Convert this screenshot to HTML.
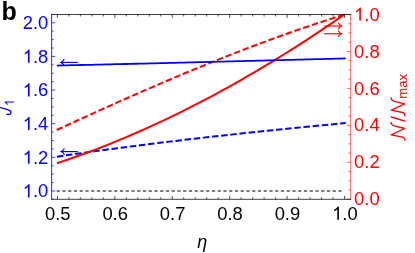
<!DOCTYPE html>
<html><head><meta charset="utf-8"><title>b</title>
<style>
html,body{margin:0;padding:0;background:#fff;}
svg{display:block;will-change:transform;}
text{font-family:"Liberation Sans",sans-serif;}
</style></head><body>
<svg width="415" height="253" viewBox="0 0 415 253">

<path d="M56.65,191.0 H344.0" stroke="#7c7c7c" stroke-width="2" stroke-dasharray="3.2 2.55" fill="none"/>
<path d="M56.70,130.01 L61.58,127.75 L66.46,125.50 L71.34,123.26 L76.23,121.02 L81.11,118.79 L85.99,116.56 L90.87,114.34 L95.75,112.13 L100.63,109.93 L105.51,107.73 L110.39,105.54 L115.28,103.36 L120.16,101.18 L125.04,99.02 L129.92,96.86 L134.80,94.72 L139.68,92.58 L144.56,90.45 L149.45,88.33 L154.33,86.22 L159.21,84.12 L164.09,82.03 L168.97,79.96 L173.85,77.89 L178.73,75.83 L183.62,73.79 L188.50,71.76 L193.38,69.74 L198.26,67.73 L203.14,65.73 L208.02,63.75 L212.90,61.78 L217.78,59.83 L222.67,57.88 L227.55,55.95 L232.43,54.04 L237.31,52.14 L242.19,50.25 L247.07,48.38 L251.95,46.53 L256.84,44.69 L261.72,42.86 L266.60,41.05 L271.48,39.26 L276.36,37.48 L281.24,35.72 L286.12,33.98 L291.01,32.25 L295.89,30.55 L300.77,28.86 L305.65,27.18 L310.53,25.53 L315.41,23.89 L320.29,22.27 L325.17,20.67 L330.06,19.09 L334.94,17.53 L339.82,15.99 L344.70,14.47" stroke="#ff0000" stroke-width="2.0" stroke-dasharray="6.45 2.75" fill="none"/>
<path d="M56.90,156.70 L61.79,155.97 L66.69,155.26 L71.58,154.55 L76.48,153.84 L81.37,153.14 L86.27,152.45 L91.16,151.77 L96.06,151.09 L100.95,150.42 L105.85,149.75 L110.74,149.10 L115.64,148.44 L120.53,147.79 L125.43,147.15 L130.32,146.52 L135.22,145.89 L140.11,145.26 L145.01,144.65 L149.90,144.03 L154.80,143.42 L159.69,142.82 L164.59,142.22 L169.48,141.63 L174.38,141.05 L179.27,140.46 L184.17,139.89 L189.06,139.31 L193.96,138.75 L198.85,138.18 L203.75,137.62 L208.64,137.07 L213.54,136.52 L218.43,135.98 L223.33,135.44 L228.22,134.90 L233.12,134.37 L238.01,133.84 L242.91,133.31 L247.80,132.79 L252.70,132.27 L257.59,131.76 L262.49,131.25 L267.38,130.74 L272.28,130.24 L277.17,129.74 L282.07,129.24 L286.96,128.75 L291.86,128.26 L296.75,127.77 L301.65,127.29 L306.54,126.81 L311.44,126.33 L316.33,125.85 L321.23,125.38 L326.12,124.91 L331.02,124.44 L335.91,123.97 L340.81,123.51 L345.70,123.05" stroke="#0000ff" stroke-width="2.0" stroke-dasharray="6.45 2.75" fill="none"/>
<path d="M56.90,163.24 L61.78,161.61 L66.66,159.96 L71.53,158.27 L76.41,156.55 L81.29,154.80 L86.17,153.02 L91.05,151.20 L95.92,149.35 L100.80,147.47 L105.68,145.56 L110.56,143.61 L115.44,141.63 L120.31,139.63 L125.19,137.58 L130.07,135.51 L134.95,133.41 L139.83,131.27 L144.70,129.10 L149.58,126.90 L154.46,124.67 L159.34,122.41 L164.22,120.12 L169.09,117.80 L173.97,115.44 L178.85,113.06 L183.73,110.64 L188.61,108.20 L193.48,105.72 L198.36,103.21 L203.24,100.68 L208.12,98.11 L212.99,95.51 L217.87,92.88 L222.75,90.22 L227.63,87.54 L232.51,84.82 L237.38,82.07 L242.26,79.29 L247.14,76.49 L252.02,73.65 L256.90,70.79 L261.77,67.89 L266.65,64.97 L271.53,62.02 L276.41,59.03 L281.29,56.02 L286.16,52.98 L291.04,49.92 L295.92,46.82 L300.80,43.70 L305.68,40.54 L310.55,37.36 L315.43,34.15 L320.31,30.91 L325.19,27.64 L330.07,24.35 L334.94,21.03 L339.82,17.68 L344.70,14.30" stroke="#ff0000" stroke-width="2.0" fill="none"/>
<path d="M56.90,65.54 L61.79,65.43 L66.69,65.33 L71.58,65.22 L76.48,65.11 L81.37,65.00 L86.27,64.89 L91.16,64.78 L96.06,64.67 L100.95,64.56 L105.85,64.45 L110.74,64.34 L115.64,64.22 L120.53,64.11 L125.43,64.00 L130.32,63.88 L135.22,63.76 L140.11,63.65 L145.01,63.53 L149.90,63.41 L154.80,63.30 L159.69,63.18 L164.59,63.06 L169.48,62.94 L174.38,62.82 L179.27,62.70 L184.17,62.58 L189.06,62.46 L193.96,62.33 L198.85,62.21 L203.75,62.09 L208.64,61.97 L213.54,61.84 L218.43,61.72 L223.33,61.60 L228.22,61.47 L233.12,61.35 L238.01,61.22 L242.91,61.10 L247.80,60.97 L252.70,60.85 L257.59,60.72 L262.49,60.60 L267.38,60.47 L272.28,60.35 L277.17,60.22 L282.07,60.10 L286.96,59.97 L291.86,59.84 L296.75,59.72 L301.65,59.59 L306.54,59.47 L311.44,59.34 L316.33,59.21 L321.23,59.09 L326.12,58.96 L331.02,58.84 L335.91,58.71 L340.81,58.59 L345.70,58.46" stroke="#0000ff" stroke-width="1.8" fill="none"/>
<path d="M77.8,62.4 H61.3" stroke="#0000ff" stroke-width="1.15" fill="none"/><path d="M64.0,59.6 Q63.1,61.4 60.9,62.4 Q63.1,63.4 64.0,65.2" stroke="#0000ff" stroke-width="1.15" fill="none" stroke-linecap="round"/>
<path d="M77.8,151.6 H61.5" stroke="#0000ff" stroke-width="1.15" fill="none"/><path d="M64.2,148.79999999999998 Q63.300000000000004,150.6 61.1,151.6 Q63.300000000000004,152.6 64.2,154.4" stroke="#0000ff" stroke-width="1.15" fill="none" stroke-linecap="round"/>
<path d="M324.2,26.0 H341.20000000000005" stroke="#ff0000" stroke-width="1.15" fill="none"/><path d="M338.5,23.2 Q339.40000000000003,25.0 341.6,26.0 Q339.40000000000003,27.0 338.5,28.8" stroke="#ff0000" stroke-width="1.15" fill="none" stroke-linecap="round"/>
<path d="M324.0,33.75 H341.20000000000005" stroke="#ff0000" stroke-width="1.15" fill="none"/><path d="M338.5,30.95 Q339.40000000000003,32.75 341.6,33.75 Q339.40000000000003,34.75 338.5,36.55" stroke="#ff0000" stroke-width="1.15" fill="none" stroke-linecap="round"/>
<path d="M350.6,13.9 V199.9" stroke="#ff0000" stroke-width="0.55" fill="none"/>
<path d="M350.6,199.30 h-3.8 M350.6,190.06 h-2.3 M350.6,180.82 h-2.3 M350.6,171.58 h-2.3 M350.6,162.34 h-3.8 M350.6,153.10 h-2.3 M350.6,143.86 h-2.3 M350.6,134.62 h-2.3 M350.6,125.38 h-3.8 M350.6,116.14 h-2.3 M350.6,106.90 h-2.3 M350.6,97.66 h-2.3 M350.6,88.42 h-3.8 M350.6,79.18 h-2.3 M350.6,69.94 h-2.3 M350.6,60.70 h-2.3 M350.6,51.46 h-3.8 M350.6,42.22 h-2.3 M350.6,32.98 h-2.3 M350.6,23.74 h-2.3 M350.6,14.50 h-3.8" stroke="#ff0000" stroke-width="0.6" fill="none"/>
<path d="M51.62,14.5 H351.0" stroke="#000" stroke-width="0.75" fill="none"/>
<path d="M51.62,199.3 H351.0" stroke="#000" stroke-width="0.75" fill="none"/>
<path d="M57.40,14.5 v3.3 M57.40,199.3 v-3.3 M68.88,14.5 v2.0 M68.88,199.3 v-2.0 M80.37,14.5 v2.0 M80.37,199.3 v-2.0 M91.85,14.5 v2.0 M91.85,199.3 v-2.0 M103.34,14.5 v2.0 M103.34,199.3 v-2.0 M114.82,14.5 v3.3 M114.82,199.3 v-3.3 M126.30,14.5 v2.0 M126.30,199.3 v-2.0 M137.79,14.5 v2.0 M137.79,199.3 v-2.0 M149.27,14.5 v2.0 M149.27,199.3 v-2.0 M160.76,14.5 v2.0 M160.76,199.3 v-2.0 M172.24,14.5 v3.3 M172.24,199.3 v-3.3 M183.72,14.5 v2.0 M183.72,199.3 v-2.0 M195.21,14.5 v2.0 M195.21,199.3 v-2.0 M206.69,14.5 v2.0 M206.69,199.3 v-2.0 M218.18,14.5 v2.0 M218.18,199.3 v-2.0 M229.66,14.5 v3.3 M229.66,199.3 v-3.3 M241.14,14.5 v2.0 M241.14,199.3 v-2.0 M252.63,14.5 v2.0 M252.63,199.3 v-2.0 M264.11,14.5 v2.0 M264.11,199.3 v-2.0 M275.60,14.5 v2.0 M275.60,199.3 v-2.0 M287.08,14.5 v3.3 M287.08,199.3 v-3.3 M298.56,14.5 v2.0 M298.56,199.3 v-2.0 M310.05,14.5 v2.0 M310.05,199.3 v-2.0 M321.53,14.5 v2.0 M321.53,199.3 v-2.0 M333.02,14.5 v2.0 M333.02,199.3 v-2.0 M344.50,14.5 v3.3 M344.50,199.3 v-3.3" stroke="#000" stroke-width="0.7" fill="none"/>
<path d="M51.62,13.85 V199.8" stroke="#0000ff" stroke-width="0.85" fill="none"/>
<path d="M51.62,199.30 h2.0 M51.62,191.00 h3.6 M51.62,182.59 h2.0 M51.62,174.18 h2.0 M51.62,165.76 h2.0 M51.62,157.35 h3.6 M51.62,148.94 h2.0 M51.62,140.53 h2.0 M51.62,132.11 h2.0 M51.62,123.70 h3.6 M51.62,115.29 h2.0 M51.62,106.88 h2.0 M51.62,98.46 h2.0 M51.62,90.05 h3.6 M51.62,81.64 h2.0 M51.62,73.23 h2.0 M51.62,64.81 h2.0 M51.62,56.40 h3.6 M51.62,47.99 h2.0 M51.62,39.58 h2.0 M51.62,31.16 h2.0 M51.62,22.75 h3.6 M51.62,14.50 h2.0" stroke="#0000ff" stroke-width="0.75" fill="none"/>
<path transform="translate(22.72,197.40) scale(0.008984,-0.008984)" d="M763 0H583V1147Q518 1085 412.5 1023T223 930V1104Q373 1175 486 1276T647 1472H763Z" fill="#0000ff"/><text x="32.95" y="197.40" font-size="18.4" fill="#0000ff">.0</text>
<path transform="translate(22.72,163.75) scale(0.008984,-0.008984)" d="M763 0H583V1147Q518 1085 412.5 1023T223 930V1104Q373 1175 486 1276T647 1472H763Z" fill="#0000ff"/><text x="32.95" y="163.75" font-size="18.4" fill="#0000ff">.2</text>
<path transform="translate(22.72,130.10) scale(0.008984,-0.008984)" d="M763 0H583V1147Q518 1085 412.5 1023T223 930V1104Q373 1175 486 1276T647 1472H763Z" fill="#0000ff"/><text x="32.95" y="130.10" font-size="18.4" fill="#0000ff">.4</text>
<path transform="translate(22.72,96.45) scale(0.008984,-0.008984)" d="M763 0H583V1147Q518 1085 412.5 1023T223 930V1104Q373 1175 486 1276T647 1472H763Z" fill="#0000ff"/><text x="32.95" y="96.45" font-size="18.4" fill="#0000ff">.6</text>
<path transform="translate(22.72,62.80) scale(0.008984,-0.008984)" d="M763 0H583V1147Q518 1085 412.5 1023T223 930V1104Q373 1175 486 1276T647 1472H763Z" fill="#0000ff"/><text x="32.95" y="62.80" font-size="18.4" fill="#0000ff">.8</text>
<text x="22.72" y="29.15" font-size="18.4" fill="#0000ff">2.0</text>
<text x="354.05" y="205.40" font-size="18.4" fill="#ff0000">0.0</text>
<text x="354.05" y="168.44" font-size="18.4" fill="#ff0000">0.2</text>
<text x="354.05" y="131.48" font-size="18.4" fill="#ff0000">0.4</text>
<text x="354.05" y="94.52" font-size="18.4" fill="#ff0000">0.6</text>
<text x="354.05" y="57.56" font-size="18.4" fill="#ff0000">0.8</text>
<path transform="translate(354.05,20.60) scale(0.008984,-0.008984)" d="M763 0H583V1147Q518 1085 412.5 1023T223 930V1104Q373 1175 486 1276T647 1472H763Z" fill="#ff0000"/><text x="364.28" y="20.60" font-size="18.4" fill="#ff0000">.0</text>
<text x="44.96" y="219.65" font-size="18.4" fill="#000">0.5</text>
<text x="102.38" y="219.65" font-size="18.4" fill="#000">0.6</text>
<text x="159.80" y="219.65" font-size="18.4" fill="#000">0.7</text>
<text x="217.22" y="219.65" font-size="18.4" fill="#000">0.8</text>
<text x="274.64" y="219.65" font-size="18.4" fill="#000">0.9</text>
<path transform="translate(332.06,219.65) scale(0.008984,-0.008984)" d="M763 0H583V1147Q518 1085 412.5 1023T223 930V1104Q373 1175 486 1276T647 1472H763Z" fill="#000"/><text x="342.29" y="219.65" font-size="18.4" fill="#000">.0</text>
<text x="202.3" y="248" font-size="18" font-style="italic" fill="#000" text-anchor="middle">η</text>
<text x="1.6" y="20.35" font-size="25" font-weight="bold" fill="#000">b</text>
<g transform="translate(10.9,115.0) rotate(-90)"><path d="M8.35,-13.2 L5.05,-2.7 C4.5,-0.7 3.7,0 2.6,0 C1.1,0 0.3,-1.5 0.6,-3.3 L0.85,-4.5" fill="none" stroke="#0000ff" stroke-width="1.4" stroke-linecap="butt" stroke-linejoin="round"/><path transform="translate(8.75,3.10) scale(0.006348,-0.006348)" d="M763 0H583V1147Q518 1085 412.5 1023T223 930V1104Q373 1175 486 1276T647 1472H763Z" fill="#0000ff"/></g>
<g transform="translate(405.5,141) rotate(-90)" fill="none" stroke="#ff0000" stroke-width="1.35" stroke-linecap="round" stroke-linejoin="round"><path d="M0.7,-0.5 Q3.5,-0.7 3.9,-2.9 L6.2,-14.2 L12.5,-0.8 L15.1,-11.2 Q16,-14.2 18.5,-14.5"/><path d="M19.9,-0.5 L24,-14.2"/><g transform="translate(24.6,0)"><path d="M0.7,-0.5 Q3.5,-0.7 3.9,-2.9 L6.2,-14.2 L12.5,-0.8 L15.1,-11.2 Q16,-14.2 18.5,-14.5"/></g></g>
<g transform="translate(407.3,98.8) rotate(-90)"><text x="0" y="0" font-size="13.2" fill="#ff0000">max</text></g>
</svg></body></html>
